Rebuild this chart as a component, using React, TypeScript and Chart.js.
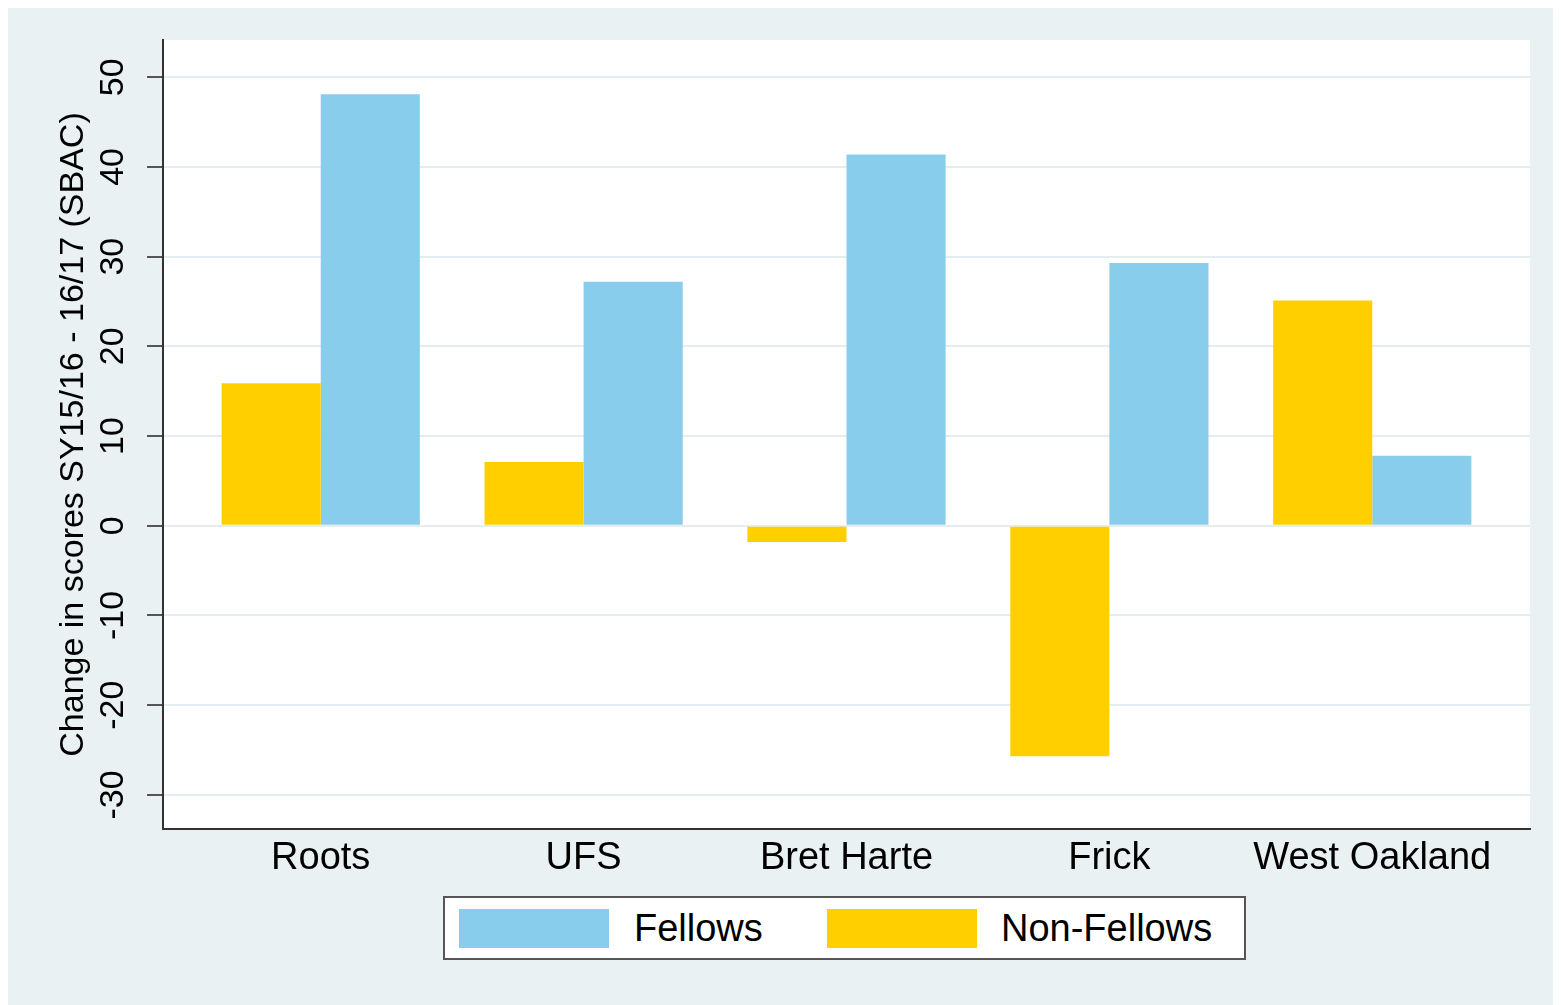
import React, { useEffect, useRef } from 'react';
import { Chart, registerables } from 'chart.js';

Chart.register(...registerables);

const categories = ['Roots', 'UFS', 'Bret Harte', 'Frick', 'West Oakland'];
const fellows = [48.1, 27.2, 41.4, 29.3, 7.8];
const nonFellows = [15.9, 7.1, -1.8, -25.7, 25.1];
const yTicks = [-30, -20, -10, 0, 10, 20, 30, 40, 50];
const seriesNames = ['Fellows', 'Non-Fellows'];
const yTitle = 'Change in scores SY15/16 - 16/17 (SBAC)';

const W = 1553;
const H = 998;
const FONT = '"Liberation Sans", Arial, Helvetica, sans-serif';
const BG = '#E9F1F3';
const BLUE = '#89CDEC';
const GOLD = '#FFCF00';
const GRID = '#E4EDF0';

const plotBg = {
  id: 'plotBg',
  beforeDraw(chart: any) {
    const { ctx, chartArea } = chart;
    ctx.save();
    ctx.fillStyle = '#FFFFFF';
    ctx.fillRect(chartArea.left, chartArea.top, chartArea.right - chartArea.left, chartArea.bottom - chartArea.top);
    ctx.restore();
  },
};

export default function App() {
  const ref = useRef<HTMLCanvasElement | null>(null);

  useEffect(() => {
    if (!ref.current) return;
    const xs = categories.map((_, i) => i + 1);
    const chart = new Chart(ref.current, {
      type: 'bar',
      data: {
        datasets: [
          {
            label: seriesNames[1],
            data: xs.map((x, i) => ({ x, y: nonFellows[i] })),
            backgroundColor: GOLD,
            borderWidth: 0,
          },
          {
            label: seriesNames[0],
            data: xs.map((x, i) => ({ x, y: fellows[i] })),
            backgroundColor: BLUE,
            borderWidth: 0,
          },
        ],
      },
      options: {
        responsive: false,
        animation: false,
        devicePixelRatio: 1,
        categoryPercentage: 0.754,
        barPercentage: 1,
        layout: { padding: { top: 33, right: 31, left: 0, bottom: 0 } },
        plugins: {
          legend: { display: false },
          tooltip: { enabled: false },
        },
        scales: {
          x: {
            type: 'linear',
            offset: false,
            min: 0.4,
            max: 5.6,
            afterBuildTicks: (scale: any) => {
              scale.ticks = xs.map((v) => ({ value: v }));
            },
            afterFit: (scale: any) => {
              scale.height = H - 822;
            },
            grid: { display: false, drawTicks: false, offset: false },
            border: { display: true, color: '#333333', width: 2 },
            ticks: {
              color: '#000000',
              padding: 7,
              autoSkip: false,
              maxRotation: 0,
              font: { family: FONT, size: 38 },
              callback: (v: any) => categories[Number(v) - 1] ?? '',
            },
          },
          y: {
            type: 'linear',
            min: -33.8,
            max: 54.15,
            afterBuildTicks: (scale: any) => {
              scale.ticks = yTicks.map((v) => ({ value: v }));
            },
            afterFit: (scale: any) => {
              scale.width = 155;
            },
            grid: {
              color: GRID,
              lineWidth: 2,
              drawTicks: true,
              tickLength: 16,
              tickColor: '#555555',
              tickWidth: 2,
            },
            border: { display: true, color: '#333333', width: 2 },
            ticks: {
              color: '#000000',
              minRotation: 90,
              maxRotation: 90,
              crossAlign: 'center',
              padding: 9,
              font: { family: FONT, size: 34 },
              callback: (v: any) => String(v),
            },
            title: {
              display: true,
              text: yTitle,
              color: '#000000',
              font: { family: FONT, size: 34 },
              padding: { top: 45, bottom: 0 },
            },
          },
        },
      },
      plugins: [plotBg],
    } as any);
    return () => chart.destroy();
  }, []);

  const legendItems = [
    { name: seriesNames[0], color: BLUE, swatchLeft: 14, textLeft: 189 },
    { name: seriesNames[1], color: GOLD, swatchLeft: 382, textLeft: 556 },
  ];

  return (
    <div style={{ position: 'relative', width: W, height: H, marginTop: -1, background: BG, fontFamily: FONT }}>
      <canvas ref={ref} width={W} height={H} style={{ position: 'absolute', left: 0, top: 0, width: W, height: H }} />
      <div
        style={{
          position: 'absolute',
          left: 435,
          top: 889,
          width: 803,
          height: 64,
          boxSizing: 'border-box',
          border: '2px solid #555555',
          background: '#FFFFFF',
        }}
      >
        {legendItems.map((it) => (
          <React.Fragment key={it.name}>
            <div style={{ position: 'absolute', left: it.swatchLeft, top: 11, width: 150, height: 39, background: it.color }} />
            <div
              style={{
                position: 'absolute',
                left: it.textLeft,
                top: 11,
                height: 39,
                lineHeight: '39px',
                fontSize: 38,
                color: '#000000',
                whiteSpace: 'nowrap',
              }}
            >
              {it.name}
            </div>
          </React.Fragment>
        ))}
      </div>
    </div>
  );
}
